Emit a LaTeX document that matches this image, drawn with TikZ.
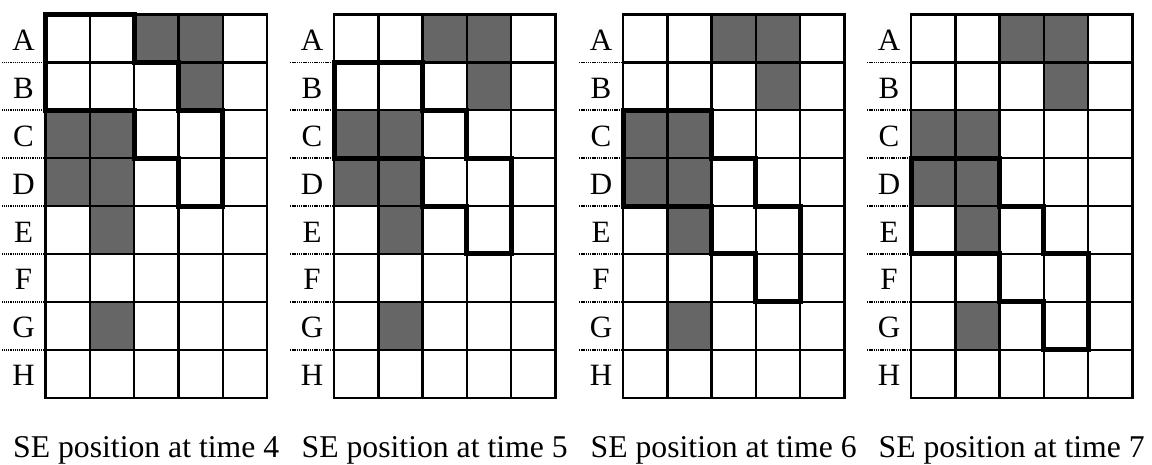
\documentclass[tikz,border=0pt]{standalone}
\usepackage{fontspec}
\setmainfont{Liberation Serif}
\definecolor{cellgray}{RGB}{102,102,102}
\tikzset{
  gridline/.style={line width=2.4pt, line cap=rect},
  seoutline/.style={line width=5pt, line join=miter},
  rowsep/.style={line width=1.6pt, dash pattern=on 1.3pt off 0.9pt},
  rowlabel/.style={font=\fontsize{31}{31}\selectfont, anchor=base, inner sep=0pt},
  captiontext/.style={font=\fontsize{31.7}{32}\selectfont, anchor=base west, inner sep=0pt},
  shaded/.style={fill=cellgray},
}
\newcommand\cellw{44.3}
\newcommand\rowh{47.9}
\newcommand\gridtop{14.5}
\begin{document}
\begin{tikzpicture}[x=1pt,y=-1pt]
\useasboundingbox (0,0) rectangle (1152,465);
\fill[white] (0,0) rectangle (1152,465);
\foreach \g/\k/\tm in {45.5/0/4, 334/1/5, 623/2/6, 911/3/7} {
  % shaded cells (row/col, 0-based)
  \foreach \r/\c in {0/2,0/3,1/3,2/0,2/1,3/0,3/1,4/1,6/1}
    \fill[shaded] (\g+\c*\cellw, \gridtop+\r*\rowh) rectangle ++(\cellw,\rowh);
  % grid lines
  \foreach \c in {0,...,5}
    \draw[gridline] (\g+\c*\cellw, \gridtop) -- ++(0, 8*\rowh);
  \foreach \r in {0,...,8}
    \draw[gridline] (\g, \gridtop+\r*\rowh) -- ++(5*\cellw, 0);
  % structuring element outline
  \draw[seoutline] (\g, \gridtop+\k*\rowh) -- ++(2*\cellw,0) -- ++(0,\rowh)
    -- ++(\cellw,0) -- ++(0,\rowh) -- ++(\cellw,0) -- ++(0,2*\rowh)
    -- ++(-\cellw,0) -- ++(0,-\rowh) -- ++(-\cellw,0) -- ++(0,-\rowh)
    -- ++(-2*\cellw,0) -- cycle;
  % dotted row separators
  \foreach \r in {1,...,7}
    \draw[rowsep] (\g-44, \gridtop+\r*\rowh) -- (\g, \gridtop+\r*\rowh);
  % row labels
  \foreach \L [count=\i from 0] in {A,B,C,D,E,F,G,H}
    \node[rowlabel] (lab\tm\L) at (\g-22, \gridtop+\i*\rowh+\rowh/2+12) {\L};
  % caption
  \node[captiontext] (cap\tm) at (\g-32.5, 457.7) {SE position at time \tm};
}
\end{tikzpicture}
\end{document}
